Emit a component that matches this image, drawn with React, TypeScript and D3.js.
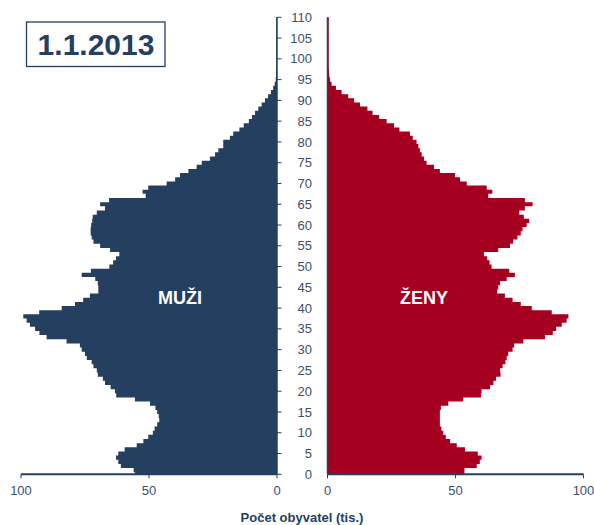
import React, { useRef, useEffect } from 'react';
import { select, scaleLinear, range } from 'd3';

// ages 0..110, values in thousands
const ages = range(0, 111);

const muzi = [
  55.5, 56, 61, 62, 62.9, 62, 59.5, 54.8, 52.2, 50.3,
  48.5, 47.8, 46.8, 46, 46.2, 46.8, 47.5, 49.6, 55.5, 62.8,
  63.3, 65, 67.2, 68, 70, 70.4, 71.7, 72.4, 74.3, 75,
  76.3, 77, 82.2, 90, 92.8, 94.5, 96.5, 97.8, 99.1, 92.9,
  84.1, 78.9, 75.7, 73.1, 69.8, 69.8, 70, 71, 76.3, 72.7,
  65.5, 64, 62.9, 61.6, 65.2, 69.1, 71.7, 72.4, 72.8, 72.8,
  72.6, 72.2, 72, 70.4, 67.2, 69.1, 65.6, 51.3, 52.5, 50.3,
  43.1, 39.8, 37.9, 34.6, 31.4, 29.4, 26.2, 24.2, 22.9, 21,
  21, 18.4, 17.1, 14.7, 13, 11, 9.8, 8.6, 7.3, 6,
  4.7, 3.5, 2.4, 1.5, 0.9, 0.5, 0.4, 0.4, 0.3, 0.3,
  0.3, 0.3, 0.3, 0.3, 0.3, 0.3, 0.3, 0.3, 0.3, 0.3, 0.3
];

const zeny = [
  53.5, 53.5, 58.3, 59.5, 60.2, 58.7, 53.7, 50.5, 47.9, 46.2,
  45.2, 44.5, 43.9, 43.9, 43.9, 43.9, 44.3, 47.2, 53, 60,
  60.2, 63.5, 64.8, 65.8, 67.6, 67.4, 68.4, 69.5, 70, 70.6,
  72.3, 72.9, 76.5, 85, 88, 89.3, 91.5, 93.4, 94.1, 87.6,
  79.8, 75.5, 72.3, 69.3, 66.3, 66.7, 67.4, 70, 73.2, 71,
  64.1, 63.3, 62.4, 61.1, 66.7, 71.3, 72.5, 74.2, 75.5, 76.2,
  77.8, 78.8, 76.7, 74.9, 77.1, 80.1, 77.1, 62.8, 64.4, 62.2,
  54.4, 51.8, 49.8, 43.9, 41.6, 38.7, 37.7, 36.8, 36.1, 35.5,
  34.8, 33.3, 32.2, 28.1, 26, 23.1, 20.2, 17.6, 15.6, 12.7,
  10.4, 8.1, 5.5, 3.3, 1.6, 1.0, 0.7, 0.6, 0.5, 0.5,
  0.5, 0.5, 0.5, 0.5, 0.5, 0.5, 0.5, 0.5, 0.5, 0.5, 0.5
];

const ageTicks = range(0, 111, 5);
const valueTicks = [0, 50, 100];

const NAVY = '#243f60';
const RED = '#a5001f';
const LABEL = '#3c4f6b';
const FONT = 'Arial, "Liberation Sans", sans-serif';

function Pyramid() {
  const svgRef = useRef(null);

  useEffect(() => {
    const svg = select(svgRef.current);
    svg.selectAll('*').remove();

    const y = scaleLinear().domain([0, 110]).range([474.3, 17.3]);
    const step = y(0) - y(1);
    const xM = scaleLinear().domain([0, 100]).range([277, 21]);
    const xF = scaleLinear().domain([0, 100]).range([327.5, 583.5]);

    svg.append('defs').append('clipPath').attr('id', 'plot')
      .append('rect').attr('x', 0).attr('y', y(110)).attr('width', 594).attr('height', y(0) - y(110));

    const plot = svg.append('g').attr('clip-path', 'url(#plot)');

    // bars drawn as one stepped outline per side, so no seams between ages
    const side = (vals, x) => {
      let d = `M${x(0)},${y(-0.5)}`;
      ages.forEach(a => {
        d += `L${x(vals[a])},${y(a - 0.5)}L${x(vals[a])},${y(a + 0.5)}`;
      });
      d += `L${x(0)},${y(110.5)}Z`;
      return d;
    };

    plot.append('path').attr('d', side(muzi, xM)).attr('fill', NAVY);
    plot.append('path').attr('d', side(zeny, xF)).attr('fill', RED);

    // vertical axes
    svg.append('line').attr('x1', xM(0)).attr('x2', xM(0)).attr('y1', y(110)).attr('y2', y(0))
      .attr('stroke', NAVY).attr('stroke-width', 1.5);
    svg.append('line').attr('x1', xF(0)).attr('x2', xF(0)).attr('y1', y(110)).attr('y2', y(0))
      .attr('stroke', NAVY).attr('stroke-width', 1.5);

    // age ticks + labels
    svg.selectAll('.at')
      .data(ageTicks)
      .join('line')
      .attr('class', 'at')
      .attr('x1', xM(0)).attr('x2', xM(0) + 4.5)
      .attr('y1', d => y(d)).attr('y2', d => y(d))
      .attr('stroke', NAVY).attr('stroke-width', 1);

    svg.selectAll('.al')
      .data(ageTicks)
      .join('text')
      .attr('class', 'al')
      .attr('x', 312)
      .attr('y', d => y(d) + 4.6)
      .attr('text-anchor', 'end')
      .attr('font-family', FONT)
      .attr('font-size', 13)
      .attr('fill', LABEL)
      .text(d => d);

    // bottom axes
    [xM, xF].forEach(x => {
      svg.append('line').attr('x1', x(0)).attr('x2', x(100)).attr('y1', y(0)).attr('y2', y(0))
        .attr('stroke', NAVY).attr('stroke-width', 2);
      svg.append('g').selectAll('line')
        .data(valueTicks)
        .join('line')
        .attr('x1', d => x(d)).attr('x2', d => x(d))
        .attr('y1', y(0)).attr('y2', y(0) + 4)
        .attr('stroke', NAVY).attr('stroke-width', 1);
      svg.append('g').selectAll('text')
        .data(valueTicks)
        .join('text')
        .attr('x', d => x(d))
        .attr('y', 495)
        .attr('text-anchor', 'middle')
        .attr('font-family', FONT)
        .attr('font-size', 13)
        .attr('fill', LABEL)
        .text(d => d);
    });

    svg.append('text')
      .attr('x', 302).attr('y', 522)
      .attr('text-anchor', 'middle')
      .attr('font-family', FONT).attr('font-size', 13).attr('font-weight', 'bold')
      .attr('fill', NAVY)
      .text('Počet obyvatel (tis.)');

    // sex labels
    svg.append('text')
      .attr('x', 180).attr('y', 303.5)
      .attr('text-anchor', 'middle')
      .attr('font-family', FONT).attr('font-size', 18).attr('font-weight', 'bold')
      .attr('fill', '#fff')
      .text('MUŽI');
    svg.append('text')
      .attr('x', 424).attr('y', 304)
      .attr('text-anchor', 'middle')
      .attr('font-family', FONT).attr('font-size', 18).attr('font-weight', 'bold')
      .attr('fill', '#fff')
      .text('ŽENY');

    // date box
    svg.append('rect')
      .attr('x', 26.5).attr('y', 22).attr('width', 138.5).attr('height', 44.5)
      .attr('fill', '#fff').attr('stroke', NAVY).attr('stroke-width', 1.3);
    svg.append('text')
      .attr('x', 96).attr('y', 55)
      .attr('text-anchor', 'middle')
      .attr('font-family', FONT).attr('font-size', 30).attr('font-weight', 'bold')
      .attr('fill', NAVY)
      .text('1.1.2013');
  }, []);

  return (
    <svg ref={svgRef} width={594} height={525}
      style={{ position: 'absolute', left: 0, top: 0, background: '#fff' }} />
  );
}

export default function App() {
  return <Pyramid />;
}
